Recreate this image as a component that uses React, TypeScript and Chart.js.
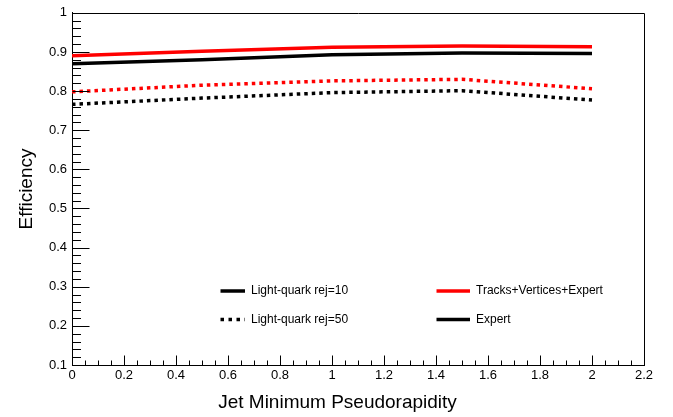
import React, { useEffect, useRef } from "react";
import { Chart, registerables } from "chart.js";

Chart.register(...registerables);

const etaValues = [0, 0.5, 1, 1.5, 2];
const tveRej10 = [0.890, 0.902, 0.912, 0.915, 0.913];
const expertRej10 = [0.870, 0.880, 0.893, 0.897, 0.896];
const tveRej50 = [0.798, 0.815, 0.826, 0.830, 0.806];
const expertRej50 = [0.766, 0.782, 0.796, 0.801, 0.777];

const xTitle = "Jet Minimum Pseudorapidity";
const yTitle = "Efficiency";
const legendRej10 = "Light-quark rej=10";
const legendRej50 = "Light-quark rej=50";
const legendTVE = "Tracks+Vertices+Expert";
const legendExpert = "Expert";

const FONT = "'Liberation Sans', Arial, Helvetica, sans-serif";

const toPoints = (ys: number[]) => etaValues.map((x, i) => ({ x, y: ys[i] }));

const rootStylePlugin = {
  id: "rootStyle",
  afterDraw(chart: any) {
    const ctx = chart.ctx as CanvasRenderingContext2D;
    const { left, right, top, bottom } = chart.chartArea;
    const xs = chart.scales.x;
    const ys = chart.scales.y;
    ctx.save();
    // frame top & right
    ctx.strokeStyle = "#000";
    ctx.lineWidth = 1;
    ctx.beginPath();
    ctx.moveTo(Math.round(left) + 0.5, Math.round(top) + 0.5);
    ctx.lineTo(Math.round(right) + 0.5, Math.round(top) + 0.5);
    ctx.lineTo(Math.round(right) + 0.5, Math.round(bottom) + 0.5);
    ctx.stroke();
    // x ticks (inside, upward)
    ctx.beginPath();
    for (let i = 0; i <= 44; i++) {
      const v = i * 0.05;
      const px = Math.round(xs.getPixelForValue(v)) + 0.5;
      const len = i % 4 === 0 ? 10 : 5;
      ctx.moveTo(px, Math.round(bottom) + 0.5);
      ctx.lineTo(px, Math.round(bottom) + 0.5 - len);
    }
    // y ticks (inside, rightward)
    for (let i = 0; i <= 45; i++) {
      const v = 0.1 + i * 0.02;
      const py = Math.round(ys.getPixelForValue(v)) + 0.5;
      const len = i % 5 === 0 ? 17 : 8.5;
      ctx.moveTo(Math.round(left) + 0.5, py);
      ctx.lineTo(Math.round(left) + 0.5 + len, py);
    }
    ctx.stroke();

    // axis titles
    ctx.fillStyle = "#000";
    ctx.font = `19px ${FONT}`;
    ctx.textAlign = "center";
    ctx.textBaseline = "alphabetic";
    ctx.fillText(xTitle, 337.5, 407.5);
    ctx.save();
    ctx.translate(31.5, 189);
    ctx.rotate(-Math.PI / 2);
    ctx.textAlign = "center";
    ctx.fillText(yTitle, 0, 0);
    ctx.restore();

    // legend
    const drawEntry = (x1: number, x2: number, y: number, color: string, dashed: boolean, label: string) => {
      ctx.save();
      ctx.strokeStyle = color;
      ctx.lineWidth = 3.5;
      ctx.setLineDash(dashed ? [3.5, 4.5] : []);
      ctx.beginPath();
      ctx.moveTo(x1, y);
      ctx.lineTo(x2, y);
      ctx.stroke();
      ctx.restore();
      ctx.fillStyle = "#000";
      ctx.font = `12px ${FONT}`;
      ctx.textAlign = "left";
      ctx.textBaseline = "middle";
      ctx.fillText(label, x2 + 6, y);
    };
    drawEntry(220.5, 245, 291, "#000", false, legendRej10);
    drawEntry(220.5, 245, 319.5, "#000", true, legendRej50);
    drawEntry(436.5, 470, 291, "#ff0000", false, legendTVE);
    drawEntry(436.5, 470, 319.5, "#000", false, legendExpert);
    ctx.restore();
  },
};

export default function App() {
  const ref = useRef<HTMLCanvasElement | null>(null);
  useEffect(() => {
    if (!ref.current) return;
    const fmt = (v: any) => {
      const n = Number(Number(v).toFixed(2));
      return String(n);
    };
    const chart = new Chart(ref.current, {
      type: "line",
      data: {
        datasets: [
          { label: legendTVE + " " + legendRej10, data: toPoints(tveRej10), borderColor: "#ff0000", borderWidth: 3.5, pointRadius: 0, tension: 0.0, fill: false },
          { label: legendExpert + " " + legendRej10, data: toPoints(expertRej10), borderColor: "#000000", borderWidth: 3.5, pointRadius: 0, tension: 0.0, fill: false },
          { label: legendTVE + " " + legendRej50, data: toPoints(tveRej50), borderColor: "#ff0000", borderWidth: 3.5, borderDash: [3.5, 4], pointRadius: 0, tension: 0.0, fill: false },
          { label: legendExpert + " " + legendRej50, data: toPoints(expertRej50), borderColor: "#000000", borderWidth: 3.5, borderDash: [3.5, 4], pointRadius: 0, tension: 0.0, fill: false },
        ],
      },
      options: {
        animation: false,
        responsive: false,
        devicePixelRatio: 1,
        layout: { padding: { left: 0, top: 8, right: 29, bottom: 0 } },
        plugins: { legend: { display: false }, tooltip: { enabled: false }, title: { display: false } },
        scales: {
          x: {
            type: "linear",
            min: 0,
            max: 2.2,
            grid: { display: false, drawTicks: false },
            border: { display: true, color: "#000", width: 1 },
            ticks: {
              stepSize: 0.2,
              autoSkip: false,
              maxRotation: 0,
              padding: 3,
              color: "#000",
              font: { family: FONT, size: 13 },
              callback: (v: any) => fmt(v),
            },
            afterFit: (s: any) => { s.height = 52; },
          },
          y: {
            type: "linear",
            min: 0.1,
            max: 1,
            grid: { display: false, drawTicks: false },
            border: { display: true, color: "#000", width: 1 },
            ticks: {
              stepSize: 0.1,
              autoSkip: false,
              padding: 5,
              color: "#000",
              font: { family: FONT, size: 13 },
              callback: (v: any) => fmt(v),
            },
            afterFit: (s: any) => { s.width = 72; },
          },
        },
      },
      plugins: [rootStylePlugin],
    });
    return () => chart.destroy();
  }, []);
  return (
    <div style={{ position: "fixed", left: 0, top: 0, width: 673, height: 417, background: "#fff" }}>
      <canvas ref={ref} width={673} height={417} />
    </div>
  );
}
